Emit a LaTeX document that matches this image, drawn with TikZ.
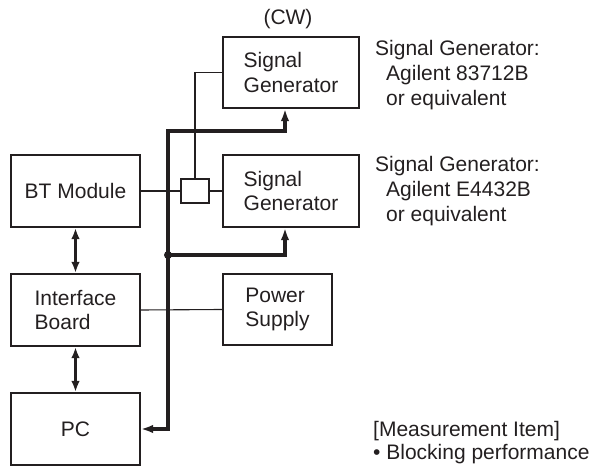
\documentclass[tikz,border=0pt]{standalone}
\usepackage{fontspec}
\setmainfont{Liberation Sans}
\usetikzlibrary{arrows.meta}
\definecolor{ink}{HTML}{231F20}
\begin{document}
\begin{tikzpicture}[x=1pt,y=-1pt,
  every node/.style={text=ink,font=\fontsize{21}{24.5}\selectfont},
  blk/.style={draw=ink,line width=2.1pt,rectangle,inner sep=0pt,align=left},
  thin/.style={draw=ink,line width=1.1pt},
  bus/.style={draw=ink,line width=3.1pt,line join=miter},
  dbl/.style={draw=ink,line width=2.7pt,{Latex[length=11pt,width=8.5pt]}-{Latex[length=11pt,width=8.5pt]}},
  lbl/.style={anchor=base west,inner sep=0pt}]
\useasboundingbox (0,0) rectangle (592,470);
% blocks
\node[blk,minimum width=129pt,minimum height=72pt] (bt) at (75.5,191) {BT Module};
\node[blk,minimum width=129pt,minimum height=72pt] (ib) at (75.5,310) {Interface\\Board};
\node[blk,minimum width=129pt,minimum height=72pt] (pc) at (75.5,429) {PC};
\node[blk,minimum width=136pt,minimum height=71pt] (sg1) at (291,72.5) {Signal\\Generator};
\node[blk,minimum width=136pt,minimum height=72pt] (sg2) at (291,191) {Signal\\Generator};
\node[blk,minimum width=109pt,minimum height=71pt] (ps) at (277.5,309.5) {Power\\Supply};
\node[draw=ink,line width=2.1pt,rectangle,minimum width=28pt,minimum height=24pt,inner sep=0pt] (sb) at (195,191) {};
% labels
\node (cw) at (288,19) {(CW)};
\node[lbl] (t1a) at (375,56) {Signal Generator:};
\node[lbl] (t1b) at (386,81) {Agilent 83712B};
\node[lbl] (t1c) at (386,106) {or equivalent};
\node[lbl] (t2a) at (375,172) {Signal Generator:};
\node[lbl] (t2b) at (386,197) {Agilent E4432B};
\node[lbl] (t2c) at (386,222) {or equivalent};
\node[lbl] (t3a) at (373,436) {[Measurement Item]};
\node[lbl] (t3b) at (373,459.5) {• Blocking performance};
% thin connectors
\draw[thin] (bt.east) -- (sb.west);
\draw[thin] (sb.east) -- (sg2.west);
\draw[thin] (sb.north) |- (sg1.west);
\draw[thin] (ib.east) -- (ps.west);
% double arrows
\draw[dbl] (bt.south) -- (ib.north);
\draw[dbl] (ib.south) -- (pc.north);
% bus
\coordinate (top) at (168,131);
\coordinate (jn) at (168,255);
\draw[bus,{Latex[length=12pt,width=8.5pt]}-{Latex[length=12pt,width=8.5pt]}] (pc.east) -| (top) -| ([xshift=-6pt]sg1.south);
\draw[bus,-{Latex[length=12pt,width=8.5pt]}] (jn) -| ([xshift=-6pt]sg2.south);
\fill[ink] (jn) circle (4pt);
\end{tikzpicture}
\end{document}
